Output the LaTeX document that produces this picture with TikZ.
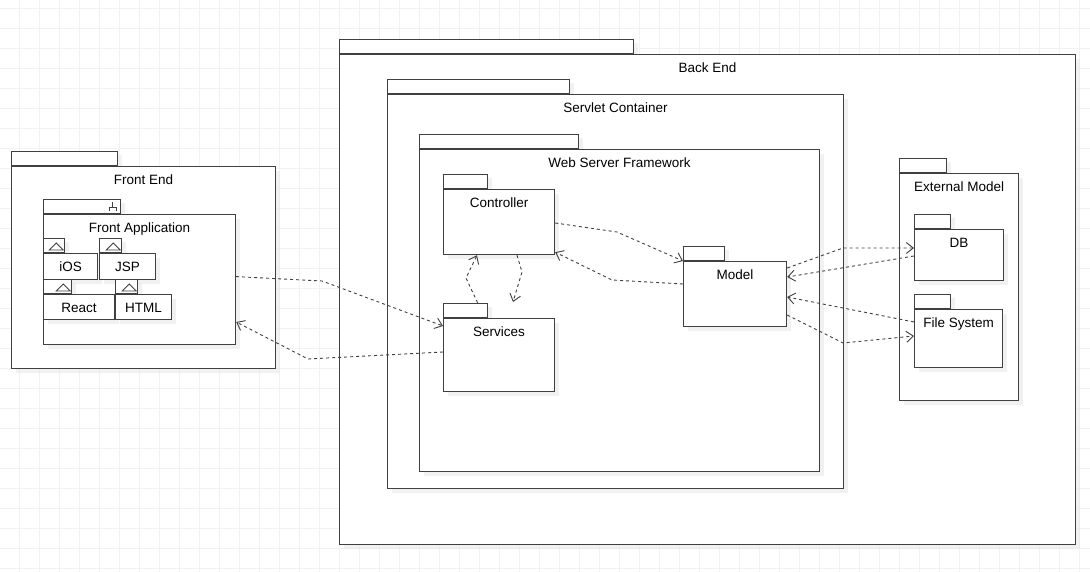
\documentclass[tikz,border=0pt]{standalone}
\usepackage{fontspec}
\setmainfont{Liberation Sans}
\usetikzlibrary{arrows.meta,calc,shadows}

\definecolor{linec}{RGB}{64,64,64}
\definecolor{gridc}{RGB}{242,241,245}

% package: name, x, y (top of box), width, height, tab width, label
\newcommand{\pkg}[7]{%
  \node[tabbox, minimum width=#6pt] (#1-tab) at (#2,#3) {};
  \node[pkgbox, minimum width=#4pt, minimum height=#5pt,
        label={[pkglabel]north:#7}] (#1) at (#2,#3) {};
}

\begin{document}
\begin{tikzpicture}[x=1pt,y=-1pt,>={Straight Barb[length=7pt,width=11pt]},
  pkgbox/.style={draw=linec, line width=1.2pt, fill=white, anchor=north west,
    inner sep=0pt, drop shadow={shadow xshift=4pt, shadow yshift=-4pt,
    fill=black!10, opacity=.5}},
  tabbox/.style={pkgbox, anchor=south west, minimum height=14pt},
  pkglabel/.style={anchor=base, yshift=-18.5pt, inner sep=0pt,
    font=\fontsize{13.5}{16}\selectfont},
  dep/.style={draw=linec, line width=.9pt, dash pattern=on 3pt off 3pt, ->},
  glyph/.style={draw=linec, line width=.9pt}]
  \useasboundingbox (0,0) rectangle (1090,572);
  % background grid
  \foreach \x in {19,39,...,1079} \draw[gridc, line width=.6pt] (\x,0) -- (\x,572);
  \foreach \y in {8,28,...,568} \draw[gridc, line width=.6pt] (0,\y) -- (1090,\y);

  % front end
  \pkg{front}{11}{166}{264}{202}{106}{Front End}
  \pkg{fapp}{43}{214}{192}{130}{77}{Front Application}
  \pkg{ios}{43}{253}{54}{26}{21}{iOS}
  \pkg{jsp}{99}{253}{56}{26}{22}{JSP}
  \pkg{react}{43}{294}{71}{25}{28}{React}
  \pkg{html}{115}{294}{56}{25}{22}{HTML}
  \draw[glyph] ([shift={(-8.5,-12)}]fapp-tab.south east) -- ++(0,5)
    ++(-3.5,4) -- ++(0,-4) -- ++(7,0) -- ++(0,4);
  \foreach \t in {ios,jsp,react,html}
    \draw[glyph] ([shift={(-16,-3)}]\t-tab.south east) -- ++(14,0) -- ++(-7,-7) -- cycle;

  % back end
  \pkg{back}{339}{54}{736}{490}{294}{Back End}
  \pkg{servlet}{387}{94}{456}{394}{182}{Servlet Container}
  \pkg{wsf}{419}{149}{400}{322}{159}{Web Server Framework}
  \pkg{ctrl}{443}{189}{111}{65}{44}{Controller}
  \pkg{srv}{443}{318}{111}{73}{44}{Services}
  \pkg{model}{683}{261}{103}{65}{41}{Model}
  \pkg{ext}{899}{173}{119}{227}{47}{External Model}
  \pkg{db}{914}{229}{89}{51}{36}{DB}
  \pkg{fs}{914}{309}{88}{58}{36}{File System}

  % bends of the dependencies
  \coordinate (b1) at (322,281);
  \coordinate (b2) at (308,359);
  \coordinate (b3) at (617,232);
  \coordinate (b4) at (612,280);
  \coordinate (b5) at (466,278);
  \coordinate (b6) at (522,272);
  \coordinate (b7) at (843,248);
  \coordinate (b10) at (843,343);

  \draw[dep] ([yshift=3pt]fapp.east) -- (b1) -- ([yshift=-8pt]srv.north west);
  \draw[dep] ([yshift=-34pt]srv.north west) -- (b2) -- ([yshift=-108pt]fapp.north east);
  \draw[dep] ([yshift=-34pt]ctrl.north east) -- (b3) -- (model.north west);
  \draw[dep] ([yshift=-23pt]model.north west) -- (b4) -- ([yshift=3pt]ctrl.south east);
  \draw[dep] ([xshift=12pt]srv-tab.north) -- (b5) -- ([xshift=34pt]ctrl.south west);
  \draw[dep] ([xshift=74pt]ctrl.south west) -- (b6) -- ([shift={(70,-16)}]srv.north west);
  \draw[dep] ([yshift=-7pt]model.north east) -- (b7) -- ([yshift=-19pt]db.north west);
  \draw[dep] ([yshift=-27pt]db.north west) -- ([yshift=-16pt]model.north east);
  \draw[dep] ([yshift=-13pt]fs.north west) -- ([yshift=-36pt]model.north east);
  \draw[dep] ([yshift=-54pt]model.north east) -- (b10) -- ([yshift=-27pt]fs.north west);
\end{tikzpicture}
\end{document}
